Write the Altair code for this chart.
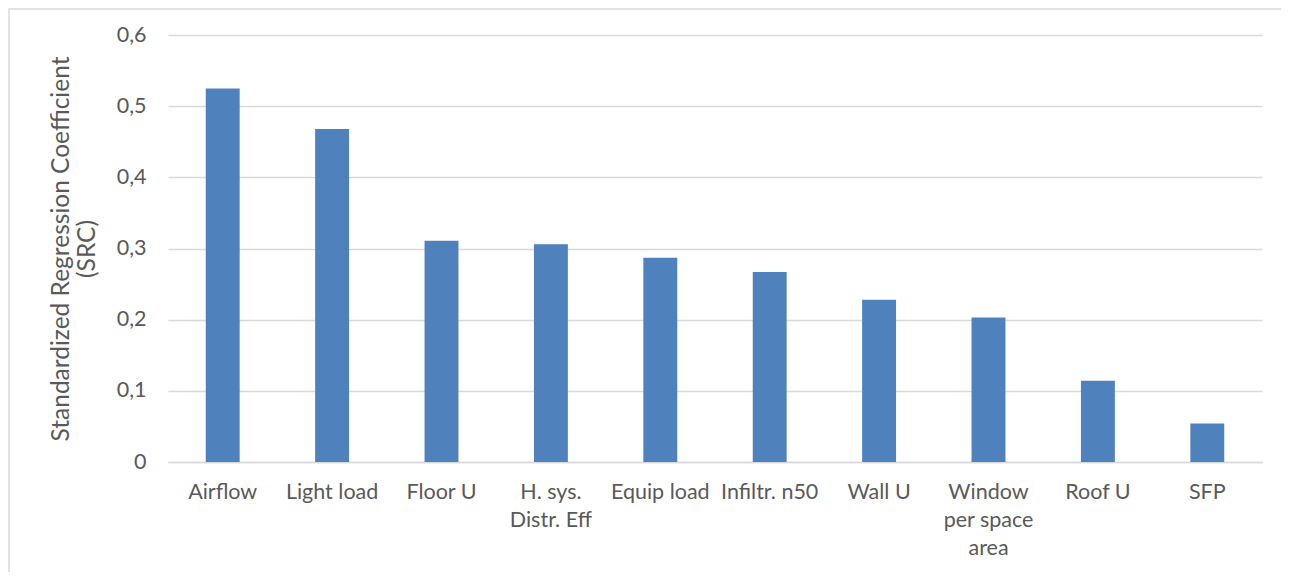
import altair as alt
import pandas as pd

categories = ["Airflow", "Light load", "Floor U", "H. sys.\nDistr. Eff", "Equip load",
              "Infiltr. n50", "Wall U", "Window\nper space\narea", "Roof U", "SFP"]
values = [0.525, 0.468, 0.311, 0.306, 0.287, 0.267, 0.228, 0.203, 0.114, 0.054]
y_ticks = [0, 0.1, 0.2, 0.3, 0.4, 0.5, 0.6]

df = pd.DataFrame({"cat": categories, "val": values})

FONT = "Lato"
TXT = "#595959"

bars = alt.Chart(df).mark_bar(color="#4f81bd").encode(
    x=alt.X("cat:N", sort=categories,
            scale=alt.Scale(paddingInner=0.69, paddingOuter=0.345),
            axis=alt.Axis(title=None, labelAngle=0, labelExpr="split(datum.label, '\\n')",
                          labelFontSize=21.5, labelColor=TXT, labelFont=FONT,
                          labelLineHeight=28, labelPadding=19, labelBaseline="top",
                          ticks=False, domainColor="#d9d9d9", domainWidth=1.5)),
    y=alt.Y("val:Q", scale=alt.Scale(domain=[0, 0.6], nice=False),
            axis=alt.Axis(values=y_ticks,
                          labelExpr="datum.value == 0 ? '0' : replace(format(datum.value, '.1f'), '.', ',')",
                          title=["Standardized Regression Coefficient", "(SRC)"],
                          titleFontSize=24.5, titleFont=FONT, titleColor=TXT,
                          titleFontWeight="normal", titlePadding=17, titleLineHeight=26,
                          labelFontSize=21.5, labelFont=FONT, labelColor=TXT, labelPadding=22,
                          ticks=False, domain=False, gridColor="#d9d9d9", gridWidth=1.5)),
)

frame = alt.Chart(pd.DataFrame({"a": [0]})).mark_rect(
    fill=None, stroke="#d9d9d9", strokeWidth=1.5
).encode(x=alt.value(-159), x2=alt.value(1125), y=alt.value(-26), y2=alt.value(600))

chart = alt.layer(frame, bars).properties(
    width=1094, height=427,
    autosize=alt.AutoSizeParams(type="none"),
    padding={"left": 160, "top": 27, "right": 19, "bottom": 110},
).configure(background="white").configure_view(strokeWidth=0, stroke="transparent")

chart.save("out.html", embed_options={"renderer": "svg", "actions": False})
